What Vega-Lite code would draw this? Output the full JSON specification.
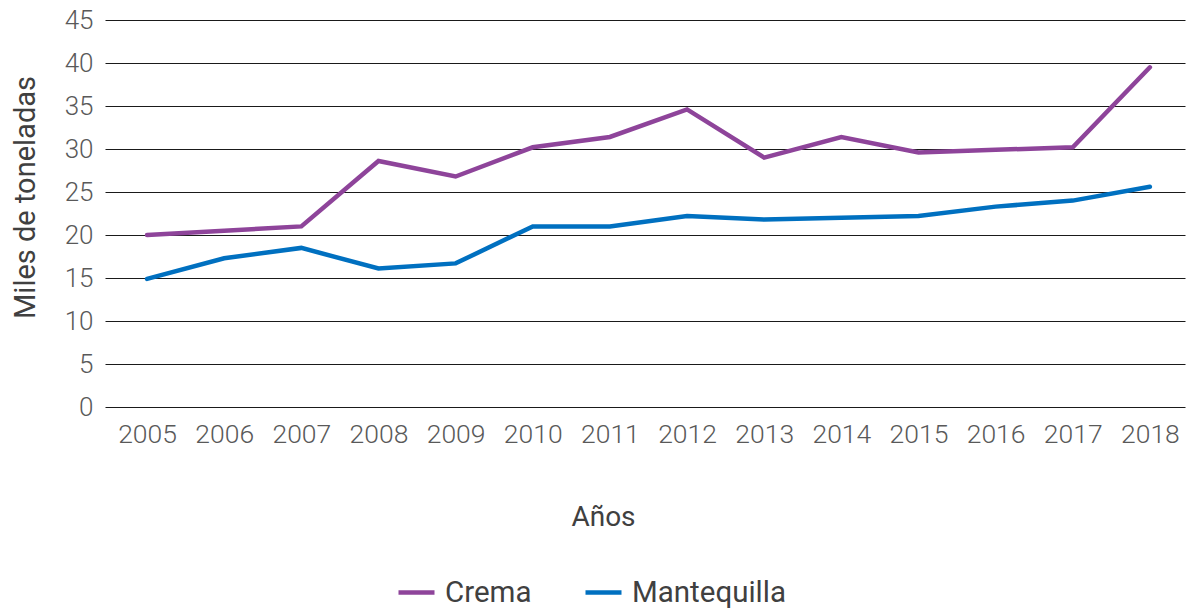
{
  "$schema": "https://vega.github.io/schema/vega-lite/v6.json",
  "width": 1080,
  "height": 387,
  "autosize": "none",
  "padding": {"left": 105, "top": 20, "right": 7, "bottom": 201},
  "background": "white",
  "config": {
    "view": {"stroke": null},
    "font": "Roboto"
  },
  "data": {
    "values": [
      {"anio": "2005", "serie": "Crema", "valor": 20.0},
      {"anio": "2006", "serie": "Crema", "valor": 20.5},
      {"anio": "2007", "serie": "Crema", "valor": 21.0},
      {"anio": "2008", "serie": "Crema", "valor": 28.6},
      {"anio": "2009", "serie": "Crema", "valor": 26.8},
      {"anio": "2010", "serie": "Crema", "valor": 30.2},
      {"anio": "2011", "serie": "Crema", "valor": 31.4},
      {"anio": "2012", "serie": "Crema", "valor": 34.6},
      {"anio": "2013", "serie": "Crema", "valor": 29.0},
      {"anio": "2014", "serie": "Crema", "valor": 31.4},
      {"anio": "2015", "serie": "Crema", "valor": 29.6},
      {"anio": "2016", "serie": "Crema", "valor": 29.9},
      {"anio": "2017", "serie": "Crema", "valor": 30.2},
      {"anio": "2018", "serie": "Crema", "valor": 39.5},
      {"anio": "2005", "serie": "Mantequilla", "valor": 14.9},
      {"anio": "2006", "serie": "Mantequilla", "valor": 17.3},
      {"anio": "2007", "serie": "Mantequilla", "valor": 18.5},
      {"anio": "2008", "serie": "Mantequilla", "valor": 16.1},
      {"anio": "2009", "serie": "Mantequilla", "valor": 16.7},
      {"anio": "2010", "serie": "Mantequilla", "valor": 21.0},
      {"anio": "2011", "serie": "Mantequilla", "valor": 21.0},
      {"anio": "2012", "serie": "Mantequilla", "valor": 22.2},
      {"anio": "2013", "serie": "Mantequilla", "valor": 21.8},
      {"anio": "2014", "serie": "Mantequilla", "valor": 22.0},
      {"anio": "2015", "serie": "Mantequilla", "valor": 22.2},
      {"anio": "2016", "serie": "Mantequilla", "valor": 23.3},
      {"anio": "2017", "serie": "Mantequilla", "valor": 24.0},
      {"anio": "2018", "serie": "Mantequilla", "valor": 25.6}
    ]
  },
  "mark": {"type": "line", "strokeWidth": 4.5, "strokeCap": "round", "strokeJoin": "miter"},
  "encoding": {
    "x": {
      "field": "anio",
      "type": "ordinal",
      "scale": {"type": "point", "padding": 0.5, "align": 0.545},
      "axis": {
        "title": "Años",
        "titleFont": "Roboto",
        "titleFontSize": 28,
        "titleFontWeight": "normal",
        "titleColor": "#404040",
        "titlePadding": 56,
        "titleX": 498,
        "titleAlign": "center",
        "labelFont": "Roboto",
        "labelFontSize": 26.5,
        "labelFontWeight": 300,
        "labelColor": "#595959",
        "labelAngle": 0,
        "labelPadding": 14,
        "ticks": false,
        "domain": false,
        "grid": false
      }
    },
    "y": {
      "field": "valor",
      "type": "quantitative",
      "scale": {"domain": [0, 45]},
      "axis": {
        "title": "Miles de toneladas",
        "titleFont": "Roboto",
        "titleFontSize": 29,
        "titleFontWeight": "normal",
        "titleColor": "#404040",
        "titlePadding": 24,
        "titleY": 177,
        "values": [0, 5, 10, 15, 20, 25, 30, 35, 40, 45],
        "labelFont": "Roboto",
        "labelFontSize": 26,
        "labelFontWeight": 300,
        "labelColor": "#595959",
        "labelPadding": 12,
        "ticks": false,
        "domain": false,
        "grid": true,
        "gridColor": "#1a1a1a",
        "gridWidth": 1
      }
    },
    "color": {
      "field": "serie",
      "type": "nominal",
      "scale": {"domain": ["Crema", "Mantequilla"], "range": ["#8E449A", "#0070C0"]},
      "legend": {
        "title": null,
        "orient": "none",
        "direction": "horizontal",
        "legendX": 291,
        "legendY": 552,
        "symbolType": "stroke",
        "symbolSize": 1296,
        "symbolStrokeWidth": 4.5,
        "labelFont": "Roboto",
        "labelFontSize": 29.5,
        "labelColor": "#404040",
        "labelOffset": 8,
        "columnPadding": 44
      }
    }
  }
}
